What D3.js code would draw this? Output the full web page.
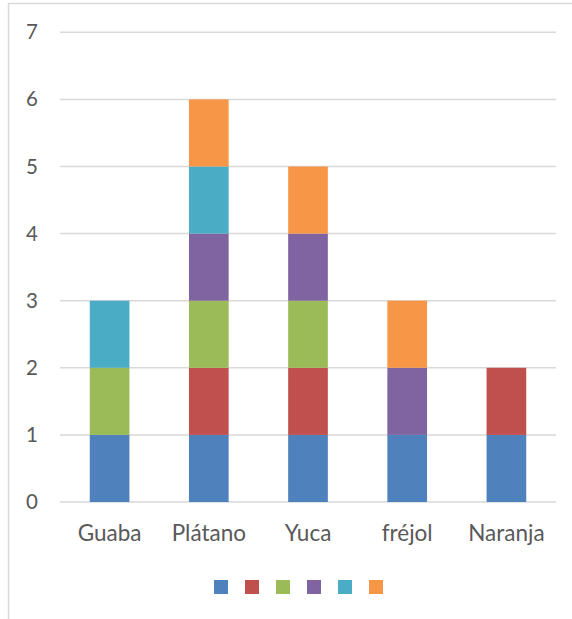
<!DOCTYPE html>
<html>
<head>
<meta charset="utf-8">
<script src="https://cdn.jsdelivr.net/npm/d3@7"></script>
<style>
  body { margin: 0; background: #fff; }
  svg { display: block; }
</style>
</head>
<body>
<svg id="chart" width="572" height="619"></svg>
<script>
// categories and the six (unnamed) stacked series
const categories = ["Guaba", "Plátano", "Yuca", "fréjol", "Naranja"];
const seriesKeys = ["s1", "s2", "s3", "s4", "s5", "s6"];
const s1 = [1, 1, 1, 1, 1];
const s2 = [0, 1, 1, 0, 1];
const s3 = [1, 1, 1, 0, 0];
const s4 = [0, 1, 1, 1, 0];
const s5 = [1, 1, 0, 0, 0];
const s6 = [0, 1, 1, 1, 0];
const yTicks = [0, 1, 2, 3, 4, 5, 6, 7];
const colors = ["#4f81bd", "#c0504d", "#9bbb59", "#8064a2", "#4bacc6", "#f79646"];

const rows = categories.map((c, i) => ({
    cat: c, s1: s1[i], s2: s2[i], s3: s3[i], s4: s4[i], s5: s5[i], s6: s6[i]
}));

const svg = d3.select("#chart");
const font = "Lato, 'Open Sans', sans-serif";

// chart frame (bottom and right run past the picture)
svg.append("rect")
    .attr("x", 8.5).attr("y", 3.5)
    .attr("width", 580).attr("height", 640)
    .attr("fill", "none").attr("stroke", "#d9d9d9").attr("stroke-width", 1.5);

const x = d3.scaleBand().domain(categories).range([60, 556]).paddingInner(0.6).paddingOuter(0.3);
const y = d3.scaleLinear().domain([0, 7]).range([502, 32.3]);

// gridlines
svg.append("g")
    .selectAll("line")
    .data(yTicks)
    .join("line")
    .attr("x1", 60).attr("x2", 556)
    .attr("y1", d => y(d)).attr("y2", d => y(d))
    .attr("stroke", "#d9d9d9").attr("stroke-width", 1.5);

// y axis labels
const yAxis = svg.append("g")
    .attr("transform", "translate(38,0)")
    .call(d3.axisLeft(y).tickValues(yTicks).tickFormat(d3.format("d")).tickSize(0).tickPadding(0));
yAxis.select(".domain").remove();
yAxis.selectAll("text")
    .attr("font-family", font).attr("font-size", 20.5).attr("fill", "#595959");

// stacked bars
const stack = d3.stack().keys(seriesKeys)(rows);
svg.append("g")
    .selectAll("g")
    .data(stack)
    .join("g")
    .attr("fill", (d, i) => colors[i])
    .selectAll("rect")
    .data(d => d.filter(p => p[1] > p[0]))
    .join("rect")
    .attr("x", d => x(d.data.cat))
    .attr("width", x.bandwidth())
    .attr("y", d => y(d[1]))
    .attr("height", d => y(d[0]) - y(d[1]));

// x axis labels
const xAxis = svg.append("g")
    .call(d3.axisBottom(x).tickSize(0).tickPadding(0));
xAxis.select(".domain").remove();
xAxis.selectAll("text")
    .attr("y", 541).attr("dy", 0)
    .attr("font-family", font).attr("font-size", 22.5).attr("fill", "#595959");

// legend: colour swatches only, series have no names
const legendX = d3.scaleBand().domain(seriesKeys).range([214 - 8.5, 383 + 8.5]);
svg.append("g")
    .selectAll("rect")
    .data(seriesKeys)
    .join("rect")
    .attr("x", d => legendX(d) + (legendX.bandwidth() - 14) / 2)
    .attr("y", 580)
    .attr("width", 14).attr("height", 14)
    .attr("fill", (d, i) => colors[i]);
</script>
</body>
</html>
